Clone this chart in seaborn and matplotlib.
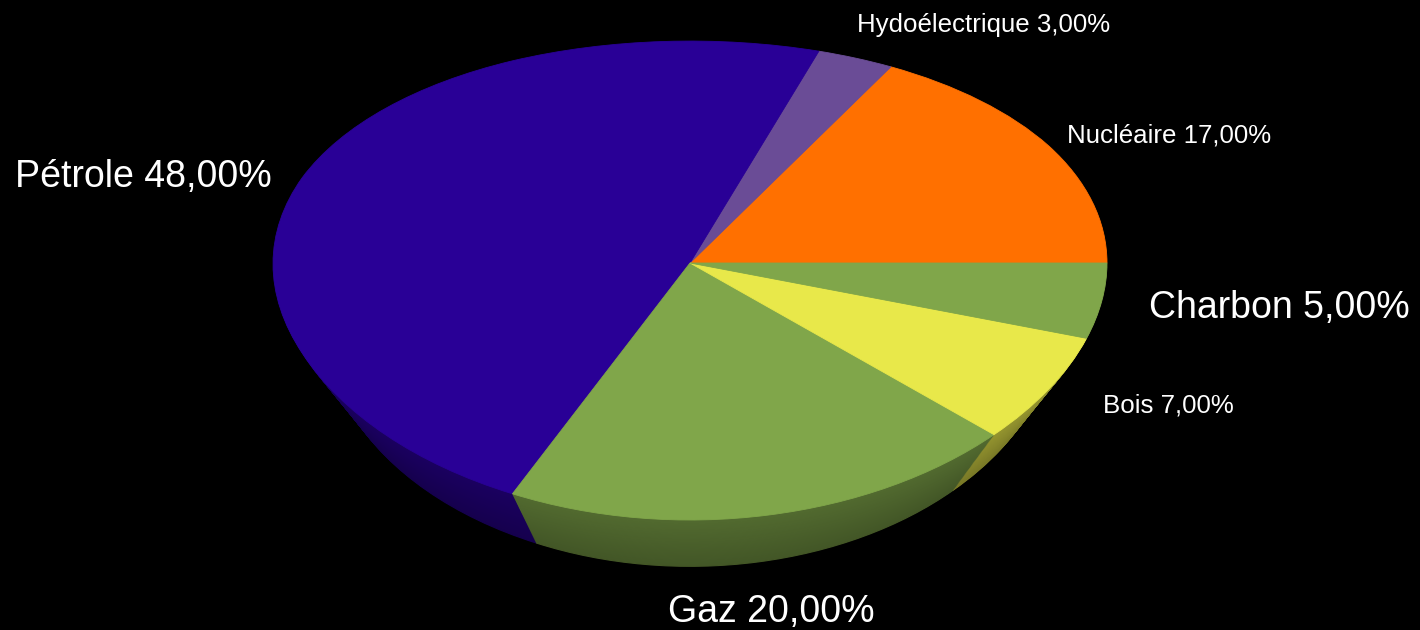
import numpy as np
import matplotlib
matplotlib.use("Agg")
import matplotlib.pyplot as plt
import seaborn as sns

# --- data (counter-clockwise from 3 o'clock) ---
sources = ["Nucléaire", "Hydoélectrique", "Pétrole", "Gaz", "Bois", "Charbon"]
shares = [17.0, 3.0, 48.0, 20.0, 7.0, 5.0]
colors = ["#ff7000", "#6a4c96", "#290096", "#80a64a", "#e8e84a", "#80a64a"]

# label layout: (x px, baseline y px, font size)
label_layout = {
    "Nucléaire": (1067, 143, 18.6),
    "Hydoélectrique": (857, 32, 18.6),
    "Pétrole": (15, 187, 27),
    "Gaz": (668, 622, 27),
    "Bois": (1103, 412, 18.6),
    "Charbon": (1149, 318, 27),
}

W, H = 1420, 630
CX, CY = 690, 263      # pivot of the pie in pixels
RX, RY = 417, 238.2    # radii
B = 0.0731             # perspective squeeze of the far side
DEPTH = 0.30           # drop of the bottom face (data units)
SHRINK = 0.135         # bottom face is a bit smaller (perspective)

sns.set_style("dark", {"axes.facecolor": "black", "figure.facecolor": "black"})
plt.rcParams["font.family"] = ["Liberation Sans", "DejaVu Sans"]

fig = plt.figure(figsize=(W / 100, H / 100), dpi=100)
ax = fig.add_axes([0, 0, 1, 1])
ax.set_facecolor("black")


def fwd(y):
    return y / (1 + B * y)


def inv(u):
    return u / (1 - B * u)


def shade(c, f):
    r, g, b = matplotlib.colors.to_rgb(c)
    return (r * f, g * f, b * f)


# side of the pie: stacked darker copies
n_layers = 50
for k in range(n_layers, 0, -1):
    t = k / n_layers
    f = 0.52 + 0.12 * (1 - t)
    wedges, _ = ax.pie(shares, colors=[shade(c, f) for c in colors],
                       startangle=0, counterclock=True,
                       center=(0, -DEPTH * t), radius=1 - SHRINK * t,
                       wedgeprops=dict(linewidth=0.8))
    for w in wedges:
        w.set_edgecolor(w.get_facecolor())

# top face
wedges, _ = ax.pie(shares, colors=colors, startangle=0, counterclock=True,
                   center=(0, 0), wedgeprops=dict(linewidth=0.6))
for w in wedges:
    w.set_edgecolor(w.get_facecolor())

ax.set_aspect("auto")
ax.set_yscale("function", functions=(fwd, inv))
ax.set_xlim(-CX / RX, (W - CX) / RX)
ax.set_ylim(inv(-(H - CY) / RY), inv(CY / RY))
ax.axis("off")

for name, val in zip(sources, shares):
    x, y, fs = label_layout[name]
    fig.text(x / W, 1 - y / H, f"{name} {val:.2f}%".replace(".", ","),
             color="white", fontsize=fs, ha="left", va="baseline")

fig.savefig("out.png", dpi=100, facecolor="black")
